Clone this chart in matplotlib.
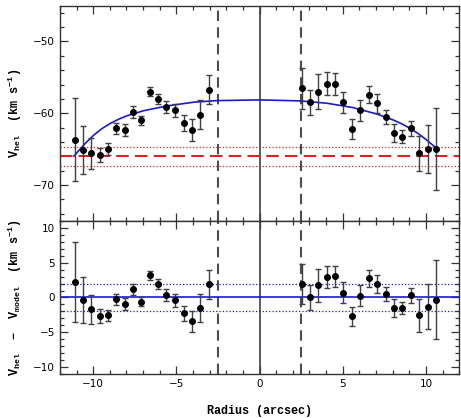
import numpy as np
import matplotlib
matplotlib.use("Agg")
import matplotlib.pyplot as plt
from matplotlib.ticker import MultipleLocator

# --- data ---
r_left = [-11.12, -10.62, -10.12, -9.62, -9.10, -8.60, -8.10, -7.60, -7.10,
          -6.60, -6.10, -5.60, -5.06, -4.56, -4.06, -3.56, -3.04]
v_left = [-63.7, -65.1, -65.6, -65.8, -65.0, -62.1, -62.3, -59.8, -61.0,
          -57.0, -58.0, -59.1, -59.6, -61.4, -62.3, -60.2, -56.7]
e_left = [5.8, 3.3, 2.1, 1.0, 0.8, 0.8, 0.85, 0.8, 0.65,
          0.65, 0.75, 0.8, 0.9, 1.1, 1.5, 2.0, 2.05]

r_right = [2.54, 3.04, 3.54, 4.05, 4.54, 5.04, 5.55, 6.06, 6.58,
           7.08, 7.59, 8.09, 8.59, 9.09, 9.61, 10.11, 10.61]
v_right = [-56.5, -58.5, -57.0, -55.9, -55.9, -58.5, -62.2, -59.6, -57.4,
           -58.6, -60.5, -62.8, -63.3, -62.1, -65.6, -65.0, -65.0]
e_right = [2.85, 1.8, 2.4, 1.6, 1.5, 1.5, 1.4, 1.5, 1.2,
           1.3, 1.0, 1.25, 0.9, 1.05, 2.4, 3.3, 5.7]

res_left = [2.25, -0.35, -1.7, -2.7, -2.55, -0.25, -0.9, 1.15, -0.6,
            3.2, 1.9, 0.35, -0.4, -2.3, -3.45, -1.5, 1.9]
res_right = [1.9, 0.0, 1.75, 2.9, 3.05, 0.7, -2.7, 0.25, 2.75,
             1.95, 0.45, -1.5, -1.5, 0.3, -2.55, -1.3, -0.3]

# model curve
r_model = [-11.16, -10.5, -9.96, -9.46, -8.96, -8.46, -7.96, -6.96, -5.56, -3.96,
           -2.56, 0.04, 2.44, 4.04, 5.64, 7.04, 8.04, 8.55, 9.05, 9.55, 10.05, 10.65]
v_model = [-65.97, -64.25, -63.03, -62.12, -61.40, -60.82, -60.34, -59.64, -58.98,
           -58.46, -58.24, -58.14, -58.28, -58.60, -59.22, -60.10, -60.94, -61.47,
           -62.10, -62.85, -63.73, -64.90]

v_sys = -66.0
v_sys_err = 1.3
res_band = 1.9
r_inner = 2.5

r_all = r_left + r_right
v_all = v_left + v_right
e_all = e_left + e_right
res_all = res_left + res_right

plt.rcParams['mathtext.fontset'] = 'custom'
plt.rcParams['mathtext.rm'] = 'Liberation Mono:bold'
plt.rcParams['mathtext.it'] = 'Liberation Mono:bold'
plt.rcParams['mathtext.bf'] = 'Liberation Mono:bold'

fig = plt.figure(figsize=(4.61, 4.18), dpi=100)
ax1 = fig.add_axes([0.130, 0.4713, 0.866, 0.5155])
ax2 = fig.add_axes([0.130, 0.1053, 0.866, 0.3660])

err_kw = dict(fmt='o', color='black', ms=4, ecolor='0.25', elinewidth=1.0,
              capsize=2, capthick=1.0, zorder=5)
lab_kw = dict(fontsize=8.5, family='Liberation Mono', weight='bold')

# top panel
ax1.axvline(0, color='0.25', lw=1.2)
for r in (-r_inner, r_inner):
    ax1.axvline(r, color='0.3', lw=1.5, dashes=(5, 3))
ax1.axhline(v_sys, color='#e02020', lw=1.5, dashes=(6, 3))
ax1.axhline(v_sys + v_sys_err, color='#e02020', lw=0.9, ls=':')
ax1.axhline(v_sys - v_sys_err, color='#e02020', lw=0.9, ls=':')
ax1.plot(r_model, v_model, color='#1a1acc', lw=1.2, zorder=4)
ax1.errorbar(r_all, v_all, yerr=e_all, **err_kw)
ax1.set_xlim(-12, 12)
ax1.set_ylim(-75, -45)
ax1.yaxis.set_major_locator(MultipleLocator(10))
ax1.yaxis.set_minor_locator(MultipleLocator(2))
ax1.tick_params(labelbottom=False)
ax1.set_ylabel(r'V$_{\rm hel}$  (km s$^{-1}$)', **lab_kw)
ax1.yaxis.set_label_coords(-0.09, 0.5)

# bottom panel
ax2.axvline(0, color='0.25', lw=1.2)
for r in (-r_inner, r_inner):
    ax2.axvline(r, color='0.3', lw=1.5, dashes=(5, 3))
ax2.axhline(0, color='#1a1acc', lw=1.2)
ax2.axhline(res_band, color='#1a1acc', lw=0.9, ls=':')
ax2.axhline(-res_band, color='#1a1acc', lw=0.9, ls=':')
ax2.errorbar(r_all, res_all, yerr=e_all, **err_kw)
ax2.set_xlim(-12, 12)
ax2.set_ylim(-11, 11)
ax2.yaxis.set_major_locator(MultipleLocator(5))
ax2.yaxis.set_minor_locator(MultipleLocator(1))
ax2.set_ylabel(r'V$_{\rm hel}$  $-$  V$_{\rm model}$  (km s$^{-1}$)', **lab_kw)
ax2.yaxis.set_label_coords(-0.09, 0.5)
ax2.set_xlabel('Radius (arcsec)', fontsize=8.5, family='Liberation Mono',
               weight='bold')
ax2.xaxis.set_label_coords(0.5, -0.2)

for ax in (ax1, ax2):
    ax.xaxis.set_major_locator(MultipleLocator(5))
    ax.xaxis.set_minor_locator(MultipleLocator(1))
    ax.tick_params(which='both', direction='in', top=True, right=True,
                   labelsize=7.5, width=0.9, color='0.2')
    ax.tick_params(which='major', length=6)
    ax.tick_params(which='minor', length=3)
    for s in ax.spines.values():
        s.set_linewidth(1.0)
        s.set_color('0.2')

fig.savefig('out.png', dpi=100)
